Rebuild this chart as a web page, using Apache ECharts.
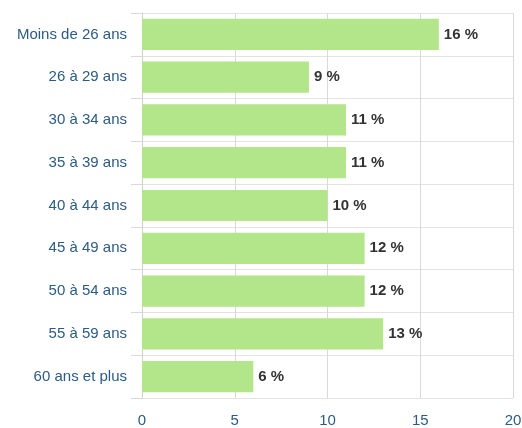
<!DOCTYPE html>
<html><head><meta charset="utf-8">
<script src="https://cdn.jsdelivr.net/npm/echarts@6/dist/echarts.min.js"></script>
<style>html,body{margin:0;padding:0;background:#fff}#c{width:522px;height:428px}</style>
</head><body><div id="c"></div>
<script>
var categories = ["Moins de 26 ans","26 à 29 ans","30 à 34 ans","35 à 39 ans","40 à 44 ans","45 à 49 ans","50 à 54 ans","55 à 59 ans","60 ans et plus"];
var values = [16, 9, 11, 11, 10, 12, 12, 13, 6];
var xTicks = [0, 5, 10, 15, 20];
var FONT = 'Arial, "Liberation Sans", sans-serif';
var chart = echarts.init(document.getElementById('c'));
chart.setOption({
  animation: false,
  textStyle: {fontFamily: FONT},
  grid: {left: 142, right: 9, top: 13, bottom: 30, containLabel: false, outerBoundsMode: 'none'},
  xAxis: {
    type: 'value', min: xTicks[0], max: xTicks[xTicks.length-1], interval: 5,
    axisLine: {show: false}, axisTick: {show: false},
    splitLine: {show: true, lineStyle: {color: '#d9d9d9', width: 1}},
    axisLabel: {color: '#2c5b85', fontSize: 15, margin: 15}
  },
  yAxis: {
    type: 'category', data: categories, inverse: true,
    axisLine: {show: true, lineStyle: {color: '#d0d0d0'}},
    axisTick: {show: true, length: 11, lineStyle: {color: '#d9d9d9'}},
    splitLine: {show: true, lineStyle: {color: '#e3e3e3', width: 1}},
    axisLabel: {color: '#2c5b85', fontSize: 15, margin: 15}
  },
  series: [{
    type: 'bar', data: values, barCategoryGap: '27%',
    itemStyle: {color: '#b3e58a'},
    label: {show: true, position: 'right', formatter: '{c} %', color: '#333', fontWeight: 'bold', fontSize: 15, distance: 5}
  }]
});
</script></body></html>
